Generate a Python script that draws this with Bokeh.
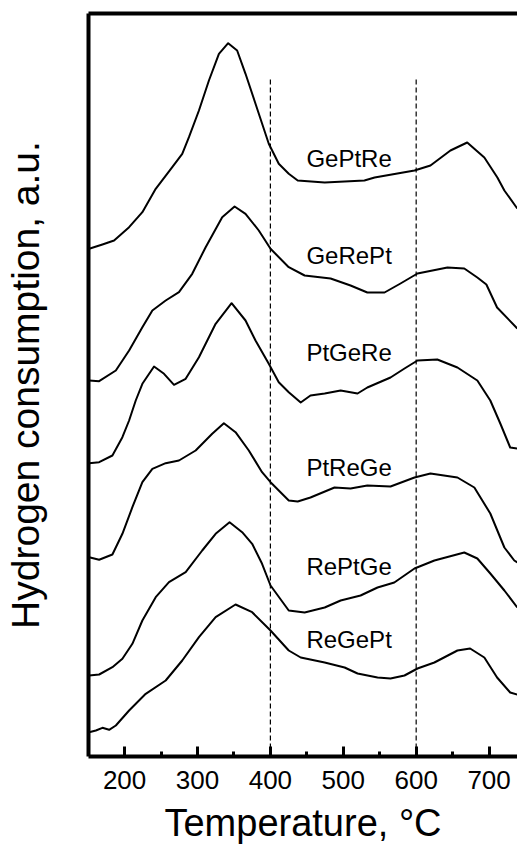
from bokeh.plotting import figure
from bokeh.models import Range1d, LinearAxis, FixedTicker, SingleIntervalTicker, ColumnDataSource
from bokeh.core.properties import value
from bokeh.embed import file_html
from bokeh.resources import INLINE

# --- data (temperature in °C, H2 consumption in arbitrary units) ---
names = ["GePtRe", "GeRePt", "PtGeRe", "PtReGe", "RePtGe", "ReGePt"]

t_geptre = [151.4, 169.6, 185.6, 206.2, 224.4, 242.7, 265.4, 279.1, 288.3, 302, 315.7, 329.4, 342.1, 354.4,
            365.9, 379.6, 397.8, 411.5, 425.2, 437.5, 474.5, 529, 543, 597.7, 619.6, 647, 670, 693.5,
            711.4, 721, 738.7]
y_geptre = [507.7, 512, 516, 529.3, 544.3, 567.7, 589.3, 602.7, 619.3, 646, 676, 702.7, 713.3, 706,
            682.7, 652.7, 612.7, 592.7, 582.7, 576, 574, 576, 579, 586, 591, 606, 614, 599,
            579, 566, 548]

t_gerept = [151.4, 165.1, 188, 206.2, 224.4, 238.1, 256.4, 274.6, 292.8, 311.2, 333.9, 350.9, 365.9, 384.1,
            400.2, 425.2, 447, 482.6, 510, 533, 556.6, 578.5, 601.8, 642.9, 666, 683.9, 696.3, 711, 738.7]
y_gerept = [376, 375.3, 386, 406, 429.3, 446, 456, 464.3, 482.7, 509.3, 539.3, 550, 542.7, 526,
            507.7, 489.3, 481, 478, 471, 464, 464, 473, 483, 489, 488, 479, 472, 449, 428]

t_ptgere = [151.4, 165.1, 183.3, 197, 206.2, 215.3, 224.4, 240.4, 254.1, 267.8, 283.8, 302, 324.9, 346.8,
            365.9, 379.6, 397.8, 411.5, 425.2, 441.6, 455, 474.5, 496.4, 519.6, 533, 564.8, 584, 601.8,
            629, 656.6, 683.9, 701.7, 715.4, 729, 738.7]
y_ptgere = [293.3, 294.3, 301, 319.3, 336, 356, 372.7, 390, 382.7, 371.7, 377.7, 399.3, 432.7, 453.3,
            436, 416, 392.7, 374.3, 364.3, 354, 361, 363, 366, 363, 369, 379, 388, 396,
            397, 389, 376, 356, 333, 309, 308]

t_ptrege = [151.4, 165.1, 183.3, 197, 210.7, 224.4, 238.1, 256.4, 274.6, 297.5, 320.2, 336.2, 352.2, 370.4,
            388.6, 400.2, 425.2, 437.5, 455, 488, 510, 533, 564.8, 597.7, 619.6, 656.6, 679.8, 701.7,
            721, 734.6, 738.7]
y_ptrege = [199.3, 196.7, 202, 222.7, 249.3, 274.3, 287.7, 293.3, 296, 306, 322.7, 333.3, 324.3, 306,
            284.3, 274.3, 256, 255, 259, 269, 268, 271, 270, 279, 283, 279, 269, 243,
            209, 196, 194]

t_reptge = [151.4, 165.1, 183.3, 197, 210.7, 224.4, 242.7, 260.9, 283.8, 306.5, 324.9, 344, 361.3, 375,
            388.6, 400.2, 425.2, 447, 474.5, 496.4, 523.7, 547, 570, 597.7, 625, 666, 683.9, 701.7,
            721, 738.7]
y_reptge = [81, 82, 89.3, 97.7, 112.7, 136, 159.3, 174.3, 184.3, 206, 222.7, 234.3, 224.3, 212.7,
            192.7, 171, 146, 144, 149, 156, 161, 169, 174, 188, 196, 204, 198, 183,
            166, 149]

t_regept = [151.4, 160.6, 169.6, 178.8, 188, 206.2, 229, 256.4, 279.1, 302, 324.9, 352.2, 375, 400.2,
            425.2, 441.6, 474.5, 501.8, 519.6, 547, 564.8, 584, 601.8, 625, 656.6, 674, 693.5, 711,
            729, 738.7]
y_regept = [24.3, 26, 28.7, 26.7, 31, 46, 62.7, 76, 96, 119.3, 139.3, 152, 144.3, 126,
            106, 99, 94, 89, 83, 79, 78, 81, 88, 94, 106, 108, 99, 79,
            64, 62]

label_t = [508, 508, 508, 508, 508, 508]
label_y = [598, 501, 404, 289, 190, 117]

vlines_t = [400, 600]
vline_top = 679

x_ticks_interval = 100
x_title = "Temperature, °C"
y_title = "Hydrogen consumption, a.u."

series = [(t_geptre, y_geptre), (t_gerept, y_gerept), (t_ptgere, y_ptgere),
          (t_ptrege, y_ptrege), (t_reptge, y_reptge), (t_regept, y_regept)]

FONT = "Liberation Sans"

p = figure(width=517, height=853, output_backend="svg", toolbar_location=None,
           x_range=Range1d(150.5, 739), y_range=Range1d(0, 743),
           x_axis_location=None, y_axis_location=None,
           min_border_left=88, min_border_right=0, min_border_top=13, min_border_bottom=97)
p.outline_line_color = None
p.xgrid.visible = False
p.ygrid.visible = False
p.background_fill_color = "white"
p.border_fill_color = "white"

# bottom axis
xa = LinearAxis(ticker=SingleIntervalTicker(interval=x_ticks_interval, num_minor_ticks=2),
                axis_label=x_title)
xa.axis_line_width = 4
xa.major_tick_in = 10
xa.major_tick_out = 0
xa.minor_tick_in = 5
xa.minor_tick_out = 0
xa.major_tick_line_width = 3
xa.minor_tick_line_width = 3
xa.major_label_text_font = FONT
xa.major_label_text_font_size = "26px"
xa.major_label_text_color = "black"
xa.major_label_standoff = 14
xa.axis_label_text_font = FONT
xa.axis_label_text_font_size = "38px"
xa.axis_label_text_font_style = "normal"
xa.axis_label_text_color = "black"
xa.axis_label_standoff = 10
p.add_layout(xa, "below")

# left axis (no ticks)
ya = LinearAxis(ticker=FixedTicker(ticks=[]), axis_label=y_title)
ya.axis_line_width = 4
ya.major_tick_in = 0
ya.major_tick_out = 0
ya.minor_tick_in = 0
ya.minor_tick_out = 0
ya.major_label_text_font_size = "0px"
ya.axis_label_text_font = FONT
ya.axis_label_text_font_size = "39px"
ya.axis_label_text_font_style = "normal"
ya.axis_label_text_color = "black"
ya.axis_label_standoff = 42
p.add_layout(ya, "left")

# top border line
ta = LinearAxis(ticker=FixedTicker(ticks=[]))
ta.axis_line_width = 4
ta.major_tick_in = 0
ta.major_tick_out = 0
ta.minor_tick_in = 0
ta.minor_tick_out = 0
ta.major_label_text_font_size = "0px"
p.add_layout(ta, "above")

# dashed reference lines
p.segment(x0=vlines_t, y0=[0, 0], x1=vlines_t, y1=[vline_top, vline_top],
          line_color="black", line_width=1.2, line_dash="5 3")

for t, y in series:
    p.line(t, y, line_color="black", line_width=2, line_join="round")

src = ColumnDataSource(dict(x=label_t, y=label_y, text=names))
p.text(x="x", y="y", text="text", source=src, text_font=value(FONT), text_font_size="24px",
       text_align="center", text_baseline="middle", text_color="black")

open("out.html", "w").write(file_html(p, INLINE))
